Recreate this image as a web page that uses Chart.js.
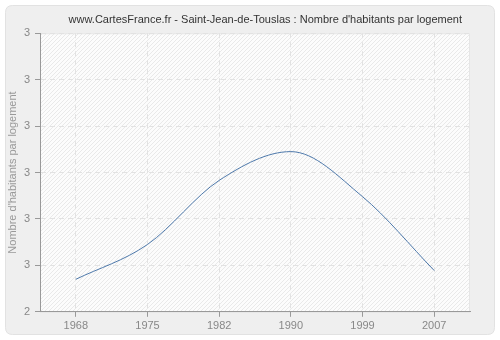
<!DOCTYPE html>
<html>
<head>
<meta charset="utf-8">
<script src="https://cdn.jsdelivr.net/npm/chart.js@4/dist/chart.umd.min.js"></script>
<style>
html,body{margin:0;padding:0;background:#fff;}
#wrap{width:500px;height:340px;position:relative;}
</style>
</head>
<body>
<div id="wrap"><canvas id="c" width="500" height="340"></canvas></div>
<script>
const titleText = "www.CartesFrance.fr - Saint-Jean-de-Touslas : Nombre d'habitants par logement";
const yAxisTitle = "Nombre d'habitants par logement";
const years = ['1968', '1975', '1982', '1990', '1999', '2007'];
const values = [2.470, 2.545, 2.683, 2.745, 2.648, 2.489];
const yTickLabels = ['2', '3', '3', '3', '3', '3', '3'];
const yMin = 2.4, yMax = 3.0, yStep = 0.1;

const FONT = "'Liberation Sans', Arial, sans-serif";

function makePattern(ctx){
  const s = 4;
  const p = document.createElement('canvas');
  p.width = s; p.height = s;
  const g = p.getContext('2d');
  g.fillStyle = '#fcfcfc';
  g.fillRect(0,0,s,s);
  g.strokeStyle = '#e9e9e9';
  g.lineWidth = 1;
  g.beginPath();
  g.moveTo(0,s); g.lineTo(s,0);
  g.moveTo(-s/2,s/2); g.lineTo(s/2,-s/2);
  g.moveTo(s/2,s*1.5); g.lineTo(s*1.5,s/2);
  g.stroke();
  return ctx.createPattern(p,'repeat');
}

const bgPlugin = {
  id: 'bg',
  afterLayout(chart){
    const tb = chart.titleBlock;
    if (tb) { tb.left -= 8; tb.right -= 8; }
  },
  beforeDraw(chart){
    const ctx = chart.ctx;
    const w = chart.width, h = chart.height;
    ctx.save();
    ctx.fillStyle = '#ffffff';
    ctx.fillRect(0,0,w,h);
    const x=5.5,y=5.5,rw=w-11,rh=h-11,r=7;
    ctx.beginPath();
    ctx.moveTo(x+r,y);
    ctx.lineTo(x+rw-r,y); ctx.quadraticCurveTo(x+rw,y,x+rw,y+r);
    ctx.lineTo(x+rw,y+rh-r); ctx.quadraticCurveTo(x+rw,y+rh,x+rw-r,y+rh);
    ctx.lineTo(x+r,y+rh); ctx.quadraticCurveTo(x,y+rh,x,y+rh-r);
    ctx.lineTo(x,y+r); ctx.quadraticCurveTo(x,y,x+r,y);
    ctx.closePath();
    ctx.fillStyle = '#efefef';
    ctx.fill();
    ctx.strokeStyle = '#e2e2e2';
    ctx.lineWidth = 1;
    ctx.stroke();
    const a = chart.chartArea;
    ctx.fillStyle = makePattern(ctx);
    ctx.fillRect(a.left, a.top, a.right-a.left, a.bottom-a.top);
    ctx.strokeStyle = '#e6e6e6';
    ctx.strokeRect(a.left+0.5, a.top+0.5, a.right-a.left-1, a.bottom-a.top);
    ctx.restore();
  }
};

new Chart(document.getElementById('c'), {
  type: 'line',
  data: {
    labels: years,
    datasets: [{
      data: values,
      borderColor: '#4e79ab',
      borderWidth: 1,
      pointRadius: 0,
      fill: false,
      cubicInterpolationMode: 'monotone'
    }]
  },
  options: {
    responsive: false,
    animation: false,
    devicePixelRatio: 1,
    layout: { padding: { left: 0, right: 30, top: 0, bottom: 4 } },
    plugins: {
      legend: { display: false },
      tooltip: { enabled: false },
      title: {
        display: true,
        text: titleText,
        align: 'end',
        color: '#333333',
        font: { family: FONT, size: 11, weight: 'normal' },
        padding: { top: 13, bottom: 7 }
      }
    },
    scales: {
      x: {
        type: 'category',
        offset: true,
        grid: {
          display: true,
          color: '#e2e2e2',
          tickColor: '#999999',
          tickLength: 5,
          tickBorderDash: [],
          drawOnChartArea: true
        },
        border: { display: true, color: '#999999', width: 1, dash: [5,4] },
        ticks: {
          color: '#888888',
          font: { family: FONT, size: 11 },
          padding: 3,
          maxRotation: 0
        }
      },
      y: {
        min: yMin,
        max: yMax,
        afterFit(scale){ scale.width = 40; },
        grid: {
          color: '#e2e2e2',
          tickColor: '#999999',
          tickLength: 5,
          tickBorderDash: []
        },
        border: { display: true, color: '#999999', width: 1, dash: [5,4] },
        title: {
          display: true,
          text: yAxisTitle,
          color: '#999999',
          font: { family: FONT, size: 11 },
          padding: { top: 6, bottom: 0 }
        },
        ticks: {
          stepSize: yStep,
          color: '#888888',
          font: { family: FONT, size: 11 },
          padding: 5,
          callback: function(v, i){ return yTickLabels[i]; }
        }
      }
    }
  },
  plugins: [bgPlugin]
});
</script>
</body>
</html>
